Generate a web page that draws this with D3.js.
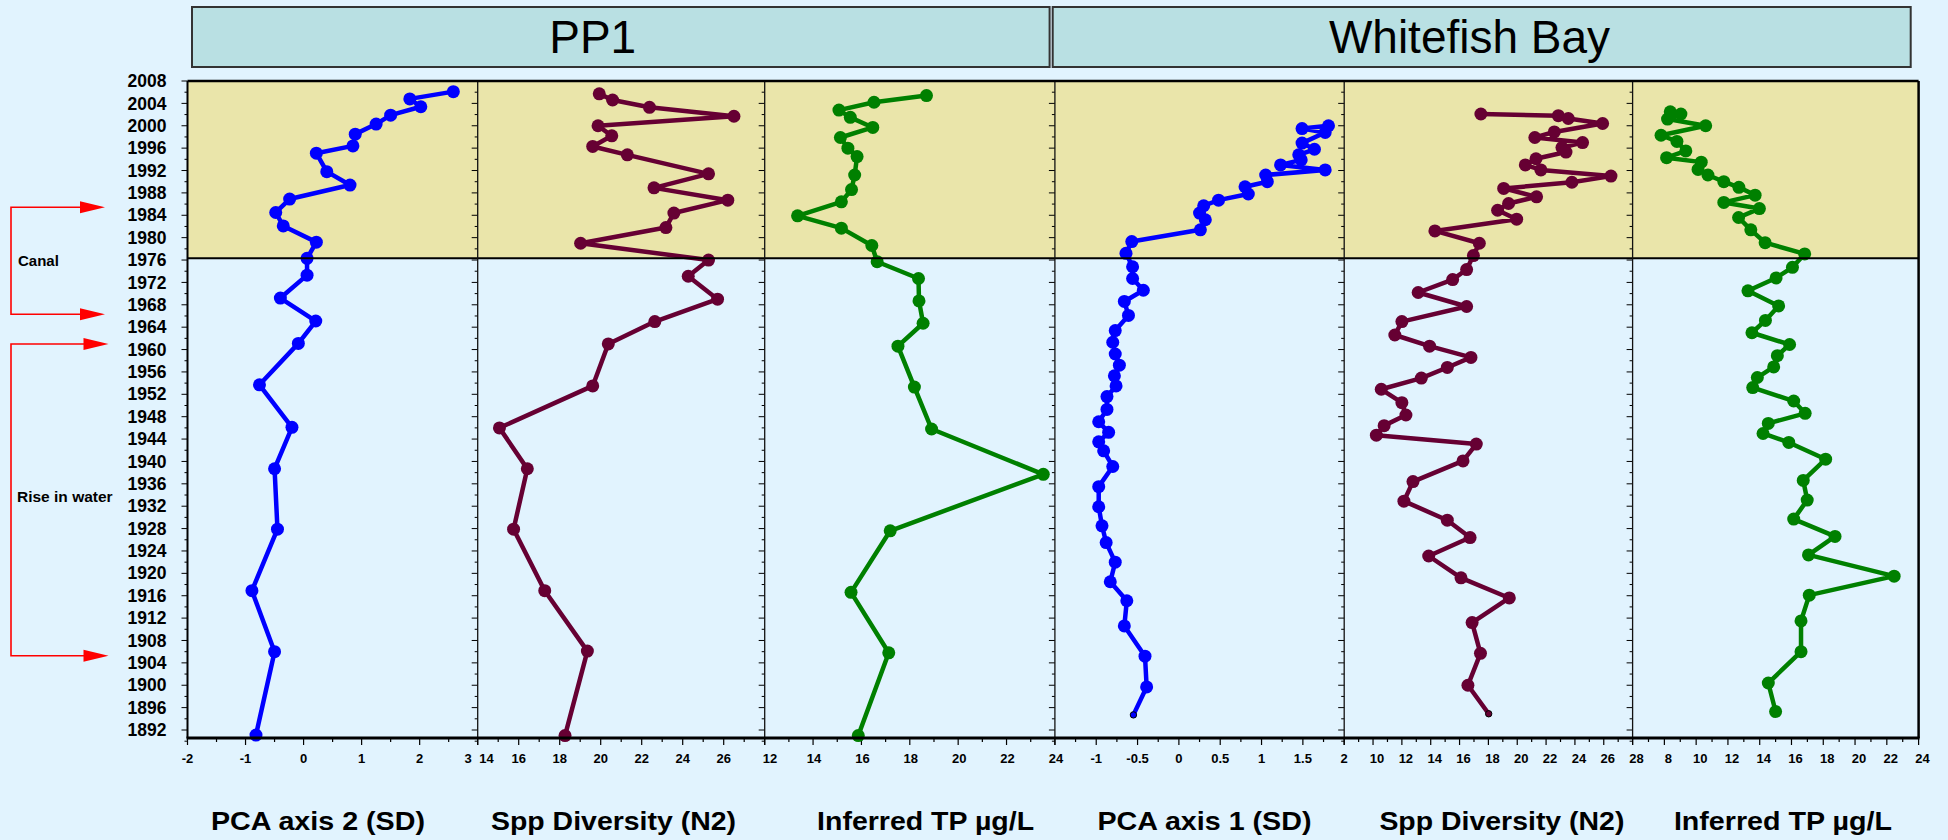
<!DOCTYPE html>
<html>
<head>
<meta charset="utf-8">
<script src="https://cdn.jsdelivr.net/npm/d3@7"></script>
<style>
  html, body { margin: 0; padding: 0; background: #E1F3FE; }
  svg { display: block; font-family: "Liberation Sans", Arial, Helvetica, sans-serif; }
</style>
</head>
<body>
<svg id="chart" width="1948" height="840"></svg>
<script>
// ---- Sites and panel titles ----
const siteNames = ["PP1", "Whitefish Bay"];
const panelTitles = ["PCA axis 2 (SD)", "Spp Diversity (N2)", "Inferred TP \u00b5g/L",
                     "PCA axis 1 (SD)", "Spp Diversity (N2)", "Inferred TP \u00b5g/L"];

// ---- Year axis ----
const yearLabels = [2008, 2004, 2000, 1996, 1992, 1988, 1984, 1980, 1976, 1972, 1968, 1964, 1960,
                    1956, 1952, 1948, 1944, 1940, 1936, 1932, 1928, 1924, 1920, 1916, 1912, 1908,
                    1904, 1900, 1896, 1892];
const shadedPeriod = [1976.3, 2008];   // post-canal period

// ---- PP1 ----
const pp1Pca2Years = [2006.1, 2004.8, 2003.4, 2001.9, 2000.3, 1998.5, 1996.4, 1995.1, 1991.8, 1989.4,
                      1986.9, 1984.5, 1982.1, 1979.2, 1976.3, 1973.3, 1969.2, 1965.1, 1961.1, 1953.7,
                      1946.1, 1938.7, 1927.9, 1916.9, 1906.0, 1891.1];
const pp1Pca2 = [2.58, 1.83, 2.02, 1.50, 1.25, 0.89, 0.85, 0.22, 0.40, 0.80,
                 -0.24, -0.48, -0.35, 0.22, 0.06, 0.06, -0.40, 0.21, -0.09, -0.76,
                 -0.20, -0.50, -0.45, -0.89, -0.50, -0.82];

const pp1DivYears = [2005.7, 2004.6, 2003.3, 2001.7, 2000.0, 1998.2, 1996.3, 1994.8, 1991.4, 1988.9,
                     1986.7, 1984.4, 1981.8, 1979.0, 1976.0, 1973.1, 1969.0, 1965.0, 1961.0, 1953.5,
                     1946.0, 1938.7, 1927.9, 1916.9, 1906.1, 1891.0];
const pp1Div = [19.93, 20.58, 22.38, 26.5, 19.87, 20.54, 19.61, 21.30, 25.26, 22.60,
                26.2, 23.57, 23.18, 19.02, 25.26, 24.27, 25.7, 22.64, 20.37, 19.61,
                15.06, 16.42, 15.75, 17.27, 19.35, 18.26];

const pp1TpYears = [2005.4, 2004.2, 2002.8, 2001.5, 1999.7, 1997.9, 1996.0, 1994.5, 1991.2, 1988.6,
                    1986.4, 1983.9, 1981.7, 1978.6, 1975.7, 1972.7, 1968.7, 1964.7, 1960.6, 1953.3,
                    1945.8, 1937.7, 1927.6, 1916.6, 1905.8, 1891.0];
const pp1Tp = [18.69, 16.52, 15.07, 15.54, 16.47, 15.13, 15.44, 15.82, 15.72, 15.59,
               15.17, 13.36, 15.17, 16.43, 16.65, 18.36, 18.38, 18.55, 17.51, 18.19,
               18.90, 23.52, 17.19, 15.57, 17.13, 15.87];

// ---- Whitefish Bay ----
const wbPca1Years = [2000.0, 1999.5, 1998.8, 1996.9, 1995.8, 1994.8, 1993.9, 1993.0, 1992.1, 1991.2,
                     1990.0, 1989.1, 1987.8, 1986.7, 1985.7, 1984.4, 1983.2, 1981.4, 1979.3, 1977.2,
                     1974.8, 1972.7, 1970.6, 1968.6, 1966.1, 1963.4, 1961.3, 1959.2, 1957.2, 1955.3,
                     1953.5, 1951.6, 1949.3, 1947.1, 1945.2, 1943.5, 1941.9, 1939.1, 1935.5, 1931.9,
                     1928.5, 1925.5, 1922.0, 1918.5, 1915.1, 1910.6, 1905.2, 1899.7, 1894.7];
const wbPca1 = [1.81, 1.49, 1.77, 1.49, 1.64, 1.45, 1.48, 1.23, 1.77, 1.05,
                1.07, 0.80, 0.84, 0.48, 0.30, 0.25, 0.32, 0.26, -0.57, -0.64,
                -0.56, -0.56, -0.43, -0.66, -0.61, -0.77, -0.80, -0.77, -0.72, -0.78,
                -0.76, -0.87, -0.87, -0.97, -0.85, -0.97, -0.91, -0.80, -0.97, -0.97,
                -0.93, -0.88, -0.77, -0.83, -0.63, -0.66, -0.41, -0.39, -0.55];

const wbDivYears = [2002.1, 2001.8, 2001.3, 2000.4, 1998.9, 1997.9, 1997.0, 1996.1, 1995.3, 1994.1,
                    1993.0, 1992.1, 1991.0, 1989.9, 1988.8, 1987.3, 1986.1, 1984.9, 1983.3, 1981.2,
                    1979.0, 1976.8, 1974.3, 1972.5, 1970.2, 1967.7, 1965.0, 1962.6, 1960.6, 1958.6,
                    1956.8, 1954.9, 1952.9, 1950.5, 1948.3, 1946.4, 1944.7, 1943.1, 1940.1, 1936.4,
                    1932.9, 1929.5, 1926.4, 1923.1, 1919.2, 1915.6, 1911.2, 1905.7, 1900.0, 1894.9];
const wbDiv = [17.48, 22.85, 23.54, 25.92, 22.57, 21.22, 24.53, 23.10, 23.38, 21.30,
               20.56, 21.64, 26.50, 23.79, 19.06, 21.34, 19.40, 18.64, 19.96, 14.29,
               17.37, 16.96, 16.49, 15.52, 13.13, 16.49, 12.00, 11.51, 13.92, 16.79,
               15.15, 13.35, 10.57, 12.00, 12.28, 10.77, 10.23, 17.16, 16.24, 12.77,
               12.14, 15.15, 16.73, 13.86, 16.10, 19.45, 16.87, 17.45, 16.58, 18.02];

const wbTpYears = [2002.5, 2002.1, 2001.2, 2000.0, 1998.3, 1997.2, 1995.5, 1994.3, 1993.5, 1992.2,
                   1991.2, 1990.0, 1989.0, 1987.6, 1986.3, 1985.2, 1983.6, 1981.4, 1979.1, 1977.1,
                   1974.7, 1972.8, 1970.5, 1967.8, 1965.2, 1963.0, 1960.9, 1958.9, 1956.9, 1955.0,
                   1953.2, 1950.8, 1948.6, 1946.8, 1945.0, 1943.4, 1940.4, 1936.6, 1933.1, 1929.7,
                   1926.6, 1923.3, 1919.5, 1916.1, 1911.5, 1906.0, 1900.4, 1895.3];
const wbTp = [8.37, 9.04, 8.20, 10.60, 7.79, 8.79, 9.35, 8.14, 10.32, 10.12,
              10.74, 11.74, 12.69, 13.71, 11.74, 13.98, 12.67, 13.44, 14.34, 16.83,
              16.06, 15.03, 13.26, 15.19, 14.36, 13.51, 15.88, 15.11, 14.88, 13.85,
              13.56, 16.14, 16.86, 14.54, 14.21, 15.83, 18.15, 16.74, 16.99, 16.14,
              18.74, 17.07, 22.46, 17.12, 16.60, 16.60, 14.54, 15.00];

// ---- Value axes: domains and tick labels ----
const pca2Domain = [-2, 3],   pca2Labels = [-2, -1, 0, 1, 2, 3];
const pp1DivDomain = [14, 28], pp1DivLabels = [14, 16, 18, 20, 22, 24, 26];
const pp1TpDomain = [12, 24],  pp1TpLabels = [12, 14, 16, 18, 20, 22, 24];
const pca1Domain = [-1.5, 2],  pca1Labels = [-1, -0.5, 0, 0.5, 1, 1.5, 2];
const wbDivDomain = [8, 28],   wbDivLabels = [10, 12, 14, 16, 18, 20, 22, 24, 26, 28];
const wbTpDomain = [6, 24],    wbTpLabels = [8, 10, 12, 14, 16, 18, 20, 22, 24];

// ---- Colours ----
const colPca = "#0000FF", colDiv = "#660033", colTp = "#008000";

// ---- Layout ----
const W = 1948, H = 840;
const plotTop = 81, plotBottom = 738;
const edges = [187.5, 477.7, 764.7, 1054.9, 1344.2, 1632.6, 1918.6];
const titleX = [318, 613.5, 925.6, 1204.5, 1501.9, 1782.9];
const titleW = [214, 245, 217, 214, 245, 218];

const panels = [
  { years: pp1Pca2Years, values: pp1Pca2, domain: pca2Domain, labels: pca2Labels, major: 1, minor: 0.5, color: colPca, smallLast: false, labelDx: 0 },
  { years: pp1DivYears, values: pp1Div, domain: pp1DivDomain, labels: pp1DivLabels, major: 2, minor: 1, color: colDiv, smallLast: false, labelDx: 0 },
  { years: pp1TpYears, values: pp1Tp, domain: pp1TpDomain, labels: pp1TpLabels, major: 2, minor: 1, color: colTp, smallLast: false, labelDx: 1 },
  { years: wbPca1Years, values: wbPca1, domain: pca1Domain, labels: pca1Labels, major: 0.5, minor: 0.25, color: colPca, smallLast: true, labelDx: 0 },
  { years: wbDivYears, values: wbDiv, domain: wbDivDomain, labels: wbDivLabels, major: 2, minor: 1, color: colDiv, smallLast: true, labelDx: 4 },
  { years: wbTpYears, values: wbTp, domain: wbTpDomain, labels: wbTpLabels, major: 2, minor: 1, color: colTp, smallLast: false, labelDx: 4 }
];

const svg = d3.select("#chart");

// background
svg.append("rect").attr("width", W).attr("height", H).attr("fill", "#E1F3FE");

// ---- Site header boxes ----
const headers = [
  { name: siteNames[0], x0: 192, x1: 1049.6, tx: 592.7 },
  { name: siteNames[1], x0: 1052.7, x1: 1910.7, tx: 1469.5 }
];
headers.forEach(h => {
  svg.append("rect")
    .attr("x", h.x0).attr("y", 7).attr("width", h.x1 - h.x0).attr("height", 60)
    .attr("fill", "#B9E0E3").attr("stroke", "#333").attr("stroke-width", 2);
  svg.append("text")
    .attr("x", h.tx).attr("y", 52.5).attr("text-anchor", "middle")
    .attr("font-size", 46).attr("fill", "#000").text(h.name);
});

// ---- Shared year scale ----
const y = d3.scaleLinear().domain([1892, 2008]).range([730, 81]);

// shaded post-canal band
svg.append("rect")
  .attr("x", edges[0]).attr("y", y(shadedPeriod[1]))
  .attr("width", edges[6] - edges[0]).attr("height", y(shadedPeriod[0]) - y(shadedPeriod[1]))
  .attr("fill", "#EAE5AA");

// ---- Year axis labels (left) ----
svg.append("g").selectAll("text").data(yearLabels).join("text")
  .attr("x", 166.5).attr("y", d => y(d)).attr("dy", "0.35em")
  .attr("text-anchor", "end").attr("font-size", 17.5).attr("font-weight", "bold")
  .attr("fill", "#000").text(d => d);

// year ticks on every panel's left edge
const yearTicks = d3.range(2008, 1889, -2);
edges.slice(0, 6).forEach(ex => {
  svg.append("g").selectAll("line").data(yearTicks).join("line")
    .attr("x1", d => ex - (((2008 - d) % 4 === 0) ? 6 : 3)).attr("x2", ex)
    .attr("y1", d => y(d)).attr("y2", d => y(d))
    .attr("stroke", "#000").attr("stroke-width", 1);
});

// ---- Panels ----
panels.forEach((p, i) => {
  const x = d3.scaleLinear().domain(p.domain).range([edges[i], edges[i + 1]]);
  const g = svg.append("g");

  // x ticks
  const nMinor = Math.round((p.domain[1] - p.domain[0]) / p.minor);
  const tickVals = d3.range(nMinor + 1).map(k => p.domain[0] + k * p.minor);
  g.selectAll("line.tick").data(tickVals).join("line")
    .attr("x1", d => x(d)).attr("x2", d => x(d))
    .attr("y1", plotBottom)
    .attr("y2", d => plotBottom + (Math.abs(((d - p.domain[0]) / p.major) - Math.round((d - p.domain[0]) / p.major)) < 1e-6 ? 7 : 4))
    .attr("stroke", "#000").attr("stroke-width", 1.2);

  // x tick labels
  g.selectAll("text.lab").data(p.labels).join("text")
    .attr("x", d => {
      if (i === 0 && d === 3) return x(d) - 6;
      if (i === 1 && d === 14) return x(d) + 1.5;
      if (i === 2 && d === 12) return x(d) - 2;
      return x(d) + p.labelDx;
    })
    .attr("text-anchor", d => {
      if (i === 0 && d === 3) return "end";
      if ((i === 1 && d === 14) || (i === 2 && d === 12)) return "start";
      return "middle";
    })
    .attr("y", 758).attr("dy", "0.35em")
    .attr("font-size", 13).attr("font-weight", "bold").attr("fill", "#000")
    .text(d => d);

  // panel title
  svg.append("text")
    .attr("x", titleX[i]).attr("y", 830).attr("text-anchor", "middle")
    .attr("font-size", 26).attr("font-weight", "bold").attr("fill", "#000")
    .attr("textLength", titleW[i]).attr("lengthAdjust", "spacingAndGlyphs")
    .text(panelTitles[i]);

  // profile line
  const pts = p.years.map((yr, k) => ({ yr, v: p.values[k] }));
  const line = d3.line().x(d => x(d.v)).y(d => y(d.yr));
  g.append("path").datum(pts)
    .attr("d", line).attr("fill", "none")
    .attr("stroke", p.color).attr("stroke-width", 4.5)
    .attr("stroke-linejoin", "round").attr("stroke-linecap", "round");

  // sample markers
  g.selectAll("circle").data(pts).join("circle")
    .attr("cx", d => x(d.v)).attr("cy", d => y(d.yr))
    .attr("r", (d, k) => (p.smallLast && k === pts.length - 1) ? 3.2 : 6.5)
    .attr("fill", p.color)
    .attr("stroke", (d, k) => (p.smallLast && k === pts.length - 1) ? "#000" : "none")
    .attr("stroke-width", 1);
});

// ---- Frame lines ----
// canal boundary line
svg.append("line").attr("x1", edges[0]).attr("x2", edges[6])
  .attr("y1", y(shadedPeriod[0])).attr("y2", y(shadedPeriod[0]))
  .attr("stroke", "#000").attr("stroke-width", 2);
// panel dividers
edges.slice(1, 6).forEach(ex => {
  svg.append("line").attr("x1", ex).attr("x2", ex).attr("y1", plotTop).attr("y2", plotBottom)
    .attr("stroke", "#111").attr("stroke-width", 1.3);
});
// left axis, top, right, bottom
svg.append("line").attr("x1", edges[0]).attr("x2", edges[0]).attr("y1", plotTop).attr("y2", plotBottom)
  .attr("stroke", "#000").attr("stroke-width", 2);
svg.append("line").attr("x1", edges[0]).attr("x2", edges[6]).attr("y1", plotTop).attr("y2", plotTop)
  .attr("stroke", "#000").attr("stroke-width", 2.5);
svg.append("line").attr("x1", edges[6]).attr("x2", edges[6]).attr("y1", plotTop).attr("y2", plotBottom)
  .attr("stroke", "#000").attr("stroke-width", 2.5);
svg.append("line").attr("x1", edges[0] - 1).attr("x2", edges[6] + 1).attr("y1", plotBottom).attr("y2", plotBottom)
  .attr("stroke", "#000").attr("stroke-width", 3);

// ---- Event brackets (left margin) ----
const red = "#FF0000";
function arrowHead(xTip, yy) {
  svg.append("path")
    .attr("d", `M${xTip - 25},${yy - 6} L${xTip},${yy} L${xTip - 25},${yy + 6} Z`)
    .attr("fill", red);
}
function bracket(yTop, yBot, xLineEnd, xTip) {
  svg.append("path")
    .attr("d", `M${xLineEnd},${yTop} H11 V${yBot} H${xLineEnd}`)
    .attr("fill", "none").attr("stroke", red).attr("stroke-width", 1.6);
  arrowHead(xTip, yTop);
  arrowHead(xTip, yBot);
}
bracket(207.3, 314.3, 82, 105);
bracket(344, 655.7, 86, 108.5);

svg.append("text").attr("x", 18).attr("y", 265.5)
  .attr("font-size", 15).attr("font-weight", "bold").attr("fill", "#000").text("Canal");
svg.append("text").attr("x", 17).attr("y", 502.3)
  .attr("font-size", 15.5).attr("font-weight", "bold").attr("fill", "#000").text("Rise in water");
</script>
</body>
</html>
